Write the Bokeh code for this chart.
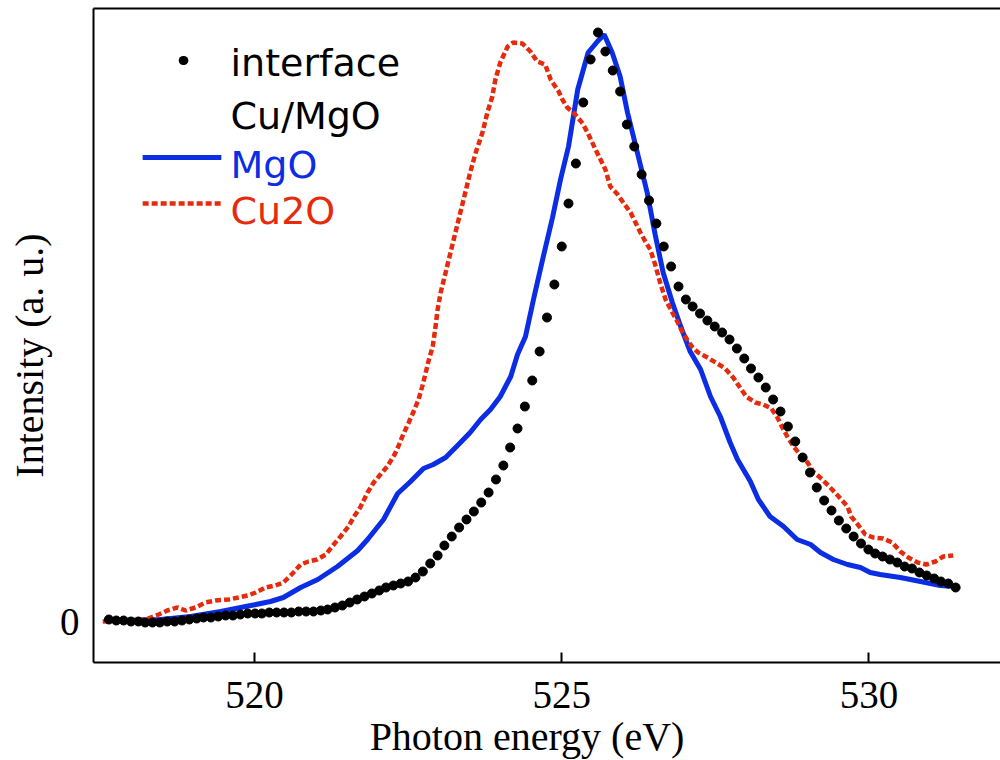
from bokeh.plotting import figure
from bokeh.models import Range1d, FixedTicker, LinearAxis, Label, Arrow
from bokeh.embed import file_html
from bokeh.resources import INLINE

# ---- data (photon energy in eV, intensity in arbitrary units) ----
interface_x = [517.63, 517.75, 517.87, 517.99, 518.11, 518.22, 518.34, 518.46, 518.58, 518.70,
               518.82, 518.94, 519.06, 519.17, 519.29, 519.41, 519.53, 519.65, 519.77, 519.89,
               520.01, 520.12, 520.24, 520.36, 520.48, 520.60, 520.72, 520.84, 520.96, 521.08,
               521.19, 521.31, 521.43, 521.55, 521.67, 521.79, 521.91, 522.03, 522.14, 522.26,
               522.38, 522.50, 522.62, 522.74, 522.86, 522.98, 523.09, 523.21, 523.33, 523.45,
               523.57, 523.69, 523.81, 523.93, 524.05, 524.16, 524.28, 524.40, 524.52, 524.64,
               524.76, 524.88, 525.00, 525.11, 525.23, 525.35, 525.47, 525.59, 525.71, 525.83,
               525.95, 526.06, 526.18, 526.30, 526.42, 526.54, 526.66, 526.78, 526.90, 527.02,
               527.13, 527.25, 527.37, 527.49, 527.61, 527.73, 527.85, 527.97, 528.08, 528.20,
               528.32, 528.44, 528.56, 528.68, 528.80, 528.92, 529.04, 529.15, 529.27, 529.39,
               529.51, 529.63, 529.75, 529.87, 529.99, 530.10, 530.22, 530.34, 530.46, 530.58,
               530.70, 530.82, 530.94, 531.06, 531.17, 531.29, 531.41]
interface_y = [2, 1, 1, 0, 0, -1, -1, -1, 0, 0,
               1, 2, 3, 4, 4, 5, 6, 6, 7, 8,
               8, 8, 9, 9, 9, 9, 10, 10, 10, 11,
               12, 14, 16, 19, 22, 25, 28, 31, 34, 36,
               38, 40, 44, 50, 58, 66, 76, 85, 94, 102,
               110, 119, 129, 142, 156, 174, 193, 215, 241, 270,
               304, 337, 375, 418, 458, 519, 562, 589, 570, 551,
               530, 497, 475, 447, 421, 398, 375, 355, 335, 322,
               315, 308, 301, 295, 289, 282, 273, 263, 253, 244,
               234, 222, 210, 195, 180, 164, 149, 134, 121, 111,
               101, 93, 85, 78, 72, 68, 65, 62, 59, 55,
               53, 49, 46, 43, 40, 38, 34]

mgo_x = [517.58, 517.98, 518.47, 518.96, 519.45, 519.94, 520.26, 520.47, 520.75, 521.03,
         521.35, 521.68, 521.84, 522.10, 522.33, 522.54, 522.75, 522.91, 523.11, 523.32,
         523.51, 523.68, 523.84, 524.00, 524.17, 524.28, 524.41, 524.54, 524.70, 524.85,
         524.98, 525.11, 525.26, 525.43, 525.58, 525.69, 525.82, 525.95, 526.07, 526.23,
         526.39, 526.52, 526.65, 526.80, 526.93, 527.09, 527.26, 527.42, 527.58, 527.74,
         527.86, 528.07, 528.20, 528.39, 528.61, 528.83, 529.05, 529.21, 529.42, 529.65,
         529.86, 530.02, 530.18, 530.51, 530.84, 531.16, 531.40]
mgo_y = [2, 1, 2, 5, 10, 16, 20, 24, 34, 42,
         55, 71, 82, 102, 128, 140, 153, 157, 164, 177,
         189, 202, 212, 225, 245, 267, 285, 322, 365, 404,
         442, 475, 532, 569, 580, 587, 569, 545, 509, 469,
         429, 387, 349, 319, 296, 270, 252, 225, 205, 179,
         162, 140, 122, 105, 95, 82, 77, 69, 62, 57,
         54, 49, 47, 44, 40, 36, 35]

cu2o_x = [517.53, 517.82, 518.23, 518.44, 518.58, 518.75, 518.88, 519.04, 519.20, 519.37,
          519.58, 519.74, 519.89, 520.02, 520.18, 520.34, 520.47, 520.62, 520.75, 520.88,
          521.02, 521.16, 521.29, 521.40, 521.53, 521.61, 521.72, 521.84, 521.94, 522.05,
          522.16, 522.28, 522.34, 522.42, 522.51, 522.59, 522.67, 522.73, 522.78, 522.83,
          522.90, 522.94, 522.98, 523.03, 523.11, 523.19, 523.27, 523.35, 523.43, 523.51,
          523.60, 523.71, 523.79, 523.87, 523.92, 524.00, 524.12, 524.21, 524.36, 524.49,
          524.60, 524.73, 524.82, 524.95, 525.01, 525.09, 525.22, 525.34, 525.42, 525.55,
          525.63, 525.71, 525.79, 525.91, 526.00, 526.12, 526.20, 526.28, 526.36, 526.44,
          526.52, 526.60, 526.69, 526.80, 526.88, 526.96, 527.04, 527.13, 527.22, 527.37,
          527.53, 527.66, 527.79, 527.89, 528.00, 528.15, 528.28, 528.41, 528.51, 528.59,
          528.67, 528.77, 528.88, 529.00, 529.09, 529.24, 529.40, 529.52, 529.65, 529.71,
          529.83, 529.94, 530.07, 530.23, 530.38, 530.51, 530.64, 530.79, 530.93, 531.08,
          531.21, 531.37]
cu2o_y = [0, 1, 2, 7, 11, 14, 11, 14, 19, 21,
          22, 24, 26, 29, 34, 36, 39, 48, 57, 60,
          62, 67, 77, 85, 95, 104, 114, 129, 139, 147,
          155, 167, 175, 187, 199, 210, 222, 235, 247, 260,
          275, 292, 312, 329, 349, 369, 389, 409, 429, 449,
          469, 489, 509, 525, 542, 559, 575, 579, 578, 570,
          560, 557, 542, 530, 522, 514, 507, 498, 489, 472,
          462, 452, 435, 427, 419, 409, 399, 389, 380, 372,
          357, 339, 322, 309, 300, 290, 282, 274, 269, 264,
          258, 253, 244, 235, 225, 219, 217, 213, 204, 194,
          185, 175, 167, 159, 150, 142, 132, 124, 115, 105,
          96, 87, 84, 83, 79, 70, 64, 59, 57, 60,
          65, 66]

x_ticks = [520, 525, 530]
y_ticks = [0]
legend_labels = ["interface", "Cu/MgO", "MgO", "Cu2O"]

BLUE = "#0b2de3"
RED = "#e52b0c"
SERIF = "Liberation Serif"
SANS = "DejaVu Sans"
NB = "\u00a0"

p = figure(frame_width=907, frame_height=654,
           x_range=Range1d(517.38, 532.14), y_range=Range1d(-41, 613),
           output_backend="svg", toolbar_location=None,
           min_border_left=93, min_border_right=0, min_border_top=8, min_border_bottom=0)
p.outline_line_color = None
p.xgrid.grid_line_color = None
p.ygrid.grid_line_color = None
p.background_fill_color = "white"
p.border_fill_color = "white"

p.line(mgo_x, mgo_y, line_color=BLUE, line_width=5)
p.line(cu2o_x, cu2o_y, line_color=RED, line_width=4.5, line_dash="6 3")
p.scatter(interface_x, interface_y, size=9, color="black", marker="circle")

xa = p.xaxis[0]
xa.ticker = FixedTicker(ticks=x_ticks)
xa.major_tick_in = 10
xa.major_tick_out = 0
xa.major_tick_line_width = 2
xa.major_tick_line_color = "black"
xa.minor_tick_line_color = None
xa.axis_line_width = 2
xa.axis_line_color = "black"
xa.major_label_text_font = SERIF
xa.major_label_text_font_size = "39px"
xa.major_label_text_color = "black"
xa.major_label_standoff = 19
xa.axis_label = "Photon energy (eV)" + NB * 4
xa.axis_label_text_font = SERIF
xa.axis_label_text_font_size = "40px"
xa.axis_label_text_font_style = "normal"
xa.axis_label_text_color = "black"
xa.axis_label_standoff = 3

ya = p.yaxis[0]
ya.ticker = FixedTicker(ticks=y_ticks)
ya.major_tick_in = 0
ya.major_tick_out = 0
ya.minor_tick_line_color = None
ya.axis_line_width = 2
ya.axis_line_color = "black"
ya.major_label_text_font = SERIF
ya.major_label_text_font_size = "39px"
ya.major_label_text_color = "black"
ya.major_label_standoff = 14
ya.axis_label = "Intensity (a. u.)" + NB * 4
ya.axis_label_text_font = SERIF
ya.axis_label_text_font_size = "40px"
ya.axis_label_text_font_style = "normal"
ya.axis_label_text_color = "black"
ya.axis_label_standoff = 5

top = LinearAxis(ticker=FixedTicker(ticks=[]), major_tick_line_color=None,
                 minor_tick_line_color=None, major_label_text_font_size="0px",
                 axis_line_width=2, axis_line_color="black",
                 major_tick_out=0, major_tick_in=0)
p.add_layout(top, "above")

# ---- legend (drawn by hand) ----
p.add_layout(Arrow(end=None, x_start=518.84, y_start=561, x_end=518.85, y_end=561,
                   line_color="black", line_width=9, line_cap="round"))
p.add_layout(Arrow(end=None, x_start=518.18, y_start=464, x_end=519.46, y_end=464,
                   line_color=BLUE, line_width=5))
p.add_layout(Arrow(end=None, x_start=518.18, y_start=418, x_end=519.46, y_end=418,
                   line_color=RED, line_width=4.5, line_dash="6 3"))
label_y = [559, 506, 457, 411]
label_colors = ["black", "black", BLUE, RED]
for t, yy, c in zip(legend_labels, label_y, label_colors):
    p.add_layout(Label(x=519.61, y=yy, text=t, text_font=SANS, text_font_size="38px",
                       text_color=c, text_baseline="alphabetic", text_align="left"))

open("out.html", "w").write(file_html(p, INLINE))
